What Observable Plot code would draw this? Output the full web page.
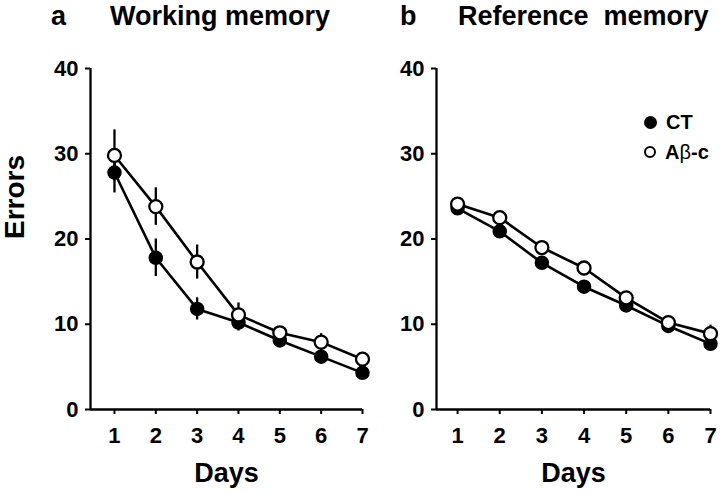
<!DOCTYPE html>
<html>
<head>
<meta charset="utf-8">
<script src="https://cdn.jsdelivr.net/npm/d3@7"></script>
<script src="https://cdn.jsdelivr.net/npm/@observablehq/plot@0.6"></script>
<style>
  html, body { margin: 0; padding: 0; background: white; }
  #wrap { position: relative; width: 720px; height: 494px; overflow: hidden; font-family: "Liberation Sans", Arial, sans-serif; }
  .panel { position: absolute; top: 0; }
  .title { position: absolute; top: 1px; font-family: "Liberation Sans Narrow", "Liberation Sans", Arial, sans-serif; font-weight: bold; font-size: 27px; white-space: pre; }
  .legend { position: absolute; font-family: "Liberation Sans", Arial, sans-serif; font-weight: bold; font-size: 20px; display: flex; align-items: center; white-space: nowrap; height: 24px; }
  .legend .sym { border-radius: 50%; border: 2px solid black; margin-right: 9px; box-sizing: border-box; }
  .legend .greek { font-weight: normal; }
</style>
</head>
<body>
<div id="wrap"></div>
<script>
// ---- data ----
const days = [1, 2, 3, 4, 5, 6, 7];
const yTicks = [0, 10, 20, 30, 40];
const seriesNames = ["CT", "A\u03b2-c"];
const panelTitles = ["Working memory", "Reference  memory"];
const panelLetters = ["a", "b"];

// Working memory
const wmCT     = [27.8, 17.8, 11.8, 10.2, 8.1, 6.2, 4.3];
const wmCTerr  = [2.4, 2.2, 1.3, 1.0, 0.8, 0.9, 0.5];
const wmAb     = [29.8, 23.8, 17.3, 11.1, 9.0, 7.9, 5.9];
const wmAbErr  = [3.0, 2.2, 2.0, 1.4, 0.7, 1.0, 0.8];
// Reference memory
const rmCT     = [23.6, 20.9, 17.2, 14.4, 12.2, 9.8, 7.7];
const rmCTerr  = [0.7, 0.7, 0.6, 0.7, 0.5, 0.6, 0.6];
const rmAb     = [24.1, 22.5, 19.0, 16.6, 13.1, 10.2, 8.9];
const rmAbErr  = [0.6, 0.6, 0.7, 0.7, 0.5, 0.7, 1.0];

function rows(vals, errs, group) {
  return days.map((d, i) => ({day: d, v: vals[i], lo: vals[i] - errs[i], hi: vals[i] + errs[i], group}));
}

const wrap = document.getElementById("wrap");

function makePanel(ct, ab, opts) {
  const xMin = opts.xMin;
  const data = [...ct, ...ab];
  const plot = Plot.plot({
    width: opts.width,
    height: 494,
    marginLeft: opts.marginLeft,
    marginRight: opts.marginRight,
    marginTop: 68,
    marginBottom: 85,
    x: {domain: [xMin, days[days.length - 1]]},
    y: {domain: [yTicks[0], yTicks[yTicks.length - 1]]},
    style: {fontFamily: "Liberation Sans, Arial, sans-serif", fontWeight: "bold", color: "black", background: "white", overflow: "visible"},
    marks: [
      Plot.axisX({ticks: days, tickFormat: d => String(d), tickSize: 5, tickPadding: 13, fontSize: 22, fontWeight: "bold", label: null, strokeWidth: 2}),
      Plot.axisY({ticks: yTicks, tickFormat: d => String(d), tickSize: 5, tickPadding: 7, fontSize: 22, fontWeight: "bold", label: null, strokeWidth: 2}),
      Plot.ruleX([xMin], {y1: yTicks[0], y2: yTicks[yTicks.length - 1], strokeWidth: 2.3}),
      Plot.ruleY([yTicks[0]], {x1: xMin, x2: days[days.length - 1], strokeWidth: 2.3}),
      Plot.text(["Days"], {frameAnchor: "bottom", dy: 72, fontSize: 27, fontWeight: "bold"}),
      opts.yLabel ? Plot.text([opts.yLabel], {frameAnchor: "left", dx: -75, rotate: -90, fontSize: 28, fontWeight: "bold"}) : null,
      Plot.ruleX(data, {x: "day", y1: "lo", y2: "hi", strokeWidth: 2.3}),
      Plot.line(ct, {x: "day", y: "v", strokeWidth: 2.6}),
      Plot.line(ab, {x: "day", y: "v", strokeWidth: 2.6}),
      Plot.dot(ct, {x: "day", y: "v", r: 6.5, fill: "black", stroke: "black", strokeWidth: 1.5}),
      Plot.dot(ab, {x: "day", y: "v", r: 6.5, fill: "white", stroke: "black", strokeWidth: 2.3})
    ]
  });
  plot.classList.add("panel");
  plot.style.left = opts.left + "px";
  plot.style.maxWidth = "none";
  wrap.appendChild(plot);
}

makePanel(rows(wmCT, wmCTerr, seriesNames[0]), rows(wmAb, wmAbErr, seriesNames[1]),
  {width: 400, left: 0, marginLeft: 90, marginRight: 38, xMin: 0.42, yLabel: "Errors"});
makePanel(rows(rmCT, rmCTerr, seriesNames[0]), rows(rmAb, rmAbErr, seriesNames[1]),
  {width: 320, left: 400, marginLeft: 36, marginRight: 10, xMin: 0.5, yLabel: null});

// titles
function addTitle(letter, text, xLetter, xText) {
  const a = document.createElement("div");
  a.className = "title"; a.textContent = letter; a.style.left = xLetter + "px";
  wrap.appendChild(a);
  const t = document.createElement("div");
  t.className = "title"; t.textContent = text; t.style.left = xText + "px";
  wrap.appendChild(t);
}
addTitle(panelLetters[0], panelTitles[0], 51, 110);
addTitle(panelLetters[1], panelTitles[1], 400, 458);

// legend
function addLegend(name, filled, top) {
  const d = document.createElement("div");
  d.className = "legend"; d.style.left = "644px"; d.style.top = top + "px";
  const s = document.createElement("span");
  s.className = "sym";
  s.style.width = s.style.height = (filled ? 13 : 12) + "px";
  s.style.background = filled ? "black" : "white";
  d.appendChild(s);
  const t = document.createElement("span");
  // render Greek letter in regular weight, as in the reference
  name.split("").forEach(ch => {
    const c = document.createElement("span");
    c.textContent = ch;
    if (/[\u0370-\u03ff]/.test(ch)) c.className = "greek";
    t.appendChild(c);
  });
  d.appendChild(t);
  wrap.appendChild(d);
}
addLegend(seriesNames[0], true, 110);
addLegend(seriesNames[1], false, 140);
</script>
</body>
</html>
